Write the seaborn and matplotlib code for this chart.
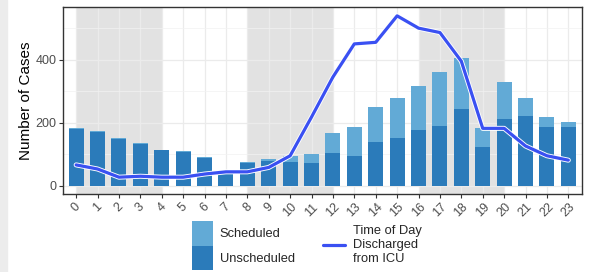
import numpy as np
import pandas as pd
import seaborn as sns
import matplotlib.pyplot as plt
import matplotlib.patheffects as pe
from matplotlib.patches import Patch, Rectangle
from matplotlib.lines import Line2D

# hour of day 0-23
hours = list(range(24))
unscheduled = [180, 170, 148, 132, 112, 108, 88, 37, 72, 78, 75, 72, 103, 95, 140, 152,
               177, 190, 244, 123, 211, 221, 185, 186]
scheduled = [4, 2, 2, 2, 1, 1, 2, 1, 2, 6, 18, 30, 65, 90, 110, 127,
             140, 170, 160, 61, 117, 56, 34, 15]
discharged = [66, 53, 27, 30, 27, 27, 37, 44, 44, 58, 95, 218, 345, 450, 455, 539,
              500, 486, 395, 182, 182, 126, 95, 81]
shade_bands = [(0, 4), (8, 12), (16, 20)]

df = pd.DataFrame({'hour': hours, 'unscheduled': unscheduled, 'scheduled': scheduled,
                   'discharged': discharged})
df['total'] = df['unscheduled'] + df['scheduled']

sns.set_style('white')
plt.rcParams['font.family'] = ['Liberation Sans', 'DejaVu Sans']

col_sched = '#62aad6'
col_unsched = '#2b7bba'
col_line = '#3a50f2'

fig = plt.figure(figsize=(5.89, 2.72), dpi=100)
fig.patches.append(Rectangle((0, 0), 7 / 589, 1, transform=fig.transFigure,
                             color='#ececec', zorder=0))
ax = fig.add_axes([0.1075, 0.286, 0.881, 0.687])

for a, b in shade_bands:
    ax.axvspan(a, b, color='#e2e2e2', zorder=0, lw=0)

sns.barplot(data=df, x='hour', y='total', color=col_sched, width=0.7,
            saturation=1, ax=ax, zorder=2, linewidth=0)
sns.barplot(data=df, x='hour', y='unscheduled', color=col_unsched, width=0.7,
            saturation=1, ax=ax, zorder=2, linewidth=0)
sns.lineplot(x=np.arange(len(hours)), y=df['discharged'], color=col_line, lw=2.3,
             ax=ax, zorder=3,
             path_effects=[pe.Stroke(linewidth=3.6, foreground='white'), pe.Normal()])

ax.set_xlim(-0.6, 23.65)
ax.set_ylim(-27, 566)
ax.set_yticks([0, 200, 400])
ax.set_yticks([100, 300, 500], minor=True)
ax.set_xticks(range(24))
ax.set_xticklabels([str(h) for h in hours], rotation=45, ha='center')
ax.grid(True, which='major', color='#ebebeb', lw=0.9, zorder=1)
ax.grid(True, which='minor', axis='y', color='#f2f2f2', lw=0.5, zorder=1)
ax.set_axisbelow(True)
ax.tick_params(axis='both', which='major', direction='out', length=3, width=0.8,
               color='#333333', labelcolor='#4d4d4d', labelsize=9, pad=2)
ax.tick_params(axis='both', which='minor', length=0)
ax.tick_params(left=True, bottom=True)
for s in ax.spines.values():
    s.set_color('#333333')
    s.set_linewidth(1.0)
ax.set_xlabel('')
ax.set_ylabel('Number of Cases', fontsize=11, color='black', labelpad=2)

h1 = [Patch(facecolor=col_sched, edgecolor='none'), Patch(facecolor=col_unsched, edgecolor='none')]
fig.legend(h1, ['Scheduled', 'Unscheduled'], loc='upper left', bbox_to_anchor=(0.326, 0.186),
           frameon=False, fontsize=9.3, handlelength=1.65, handleheight=2.5,
           labelspacing=0.0, handletextpad=0.5, borderpad=0, borderaxespad=0)
h2 = [Line2D([0], [0], color=col_line, lw=2.3)]
leg2 = fig.legend(h2, ['Time of Day\nDischarged\nfrom ICU'], loc='upper left',
                  bbox_to_anchor=(0.548, 0.172), frameon=False, fontsize=9.3,
                  handlelength=1.75, handletextpad=0.6, borderpad=0, borderaxespad=0)
for t in leg2.get_texts():
    t.set_linespacing(1.2)

fig.savefig('out.png', dpi=100)
